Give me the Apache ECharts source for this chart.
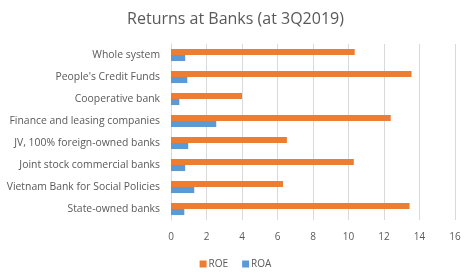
<!DOCTYPE html>
<html><head><meta charset="utf-8">
<script src="https://cdn.jsdelivr.net/npm/echarts@6/dist/echarts.min.js"></script>
<style>html,body{margin:0;padding:0;background:#fff}#c{width:471px;height:280px}</style>
</head><body><div id="c"></div>
<script>
const categories = ["Whole system","People's Credit Funds","Cooperative bank","Finance and leasing companies","JV, 100% foreign-owned banks","Joint stock commercial banks","Vietnam Bank for Social Policies","State-owned banks"];
const roe = [10.35, 13.55, 4.0, 12.38, 6.53, 10.3, 6.31, 13.44];
const roa = [0.8, 0.92, 0.47, 2.55, 0.97, 0.8, 1.31, 0.75];
const xTicks = [0, 2, 4, 6, 8, 10, 12, 14, 16];

const font = "'Open Sans', 'Liberation Sans', sans-serif";
const chart = echarts.init(document.getElementById('c'));
chart.setOption({
  animation: false,
  title: { text: 'Returns at Banks (at 3Q2019)', left: 'center', top: 6,
    textStyle: { fontFamily: font, fontSize: 16, fontWeight: 'normal', color: '#595959' } },
  legend: { bottom: 6, left: 'center', itemWidth: 7, itemHeight: 7, itemGap: 14, icon: 'rect',
    textStyle: { fontFamily: font, fontSize: 10, color: '#595959', padding: [0,0,0,-3] },
    data: ['ROE', 'ROA'] },
  grid: { left: 171, right: 16, top: 44, bottom: 60, containLabel: false },
  xAxis: { type: 'value', min: xTicks[0], max: xTicks[xTicks.length-1], interval: 2,
    axisLine: { show: false }, axisTick: { show: false },
    splitLine: { lineStyle: { color: '#d9d9d9', width: 1 } },
    axisLabel: { fontFamily: font, fontSize: 10, color: '#595959', margin: 12 } },
  yAxis: { type: 'category', data: categories, inverse: true,
    axisLine: { show: true, lineStyle: { color: '#d9d9d9' } }, axisTick: { show: false },
    axisLabel: { fontFamily: font, fontSize: 10.4, color: '#595959', margin: 11 } },
  series: [
    { name: 'ROE', type: 'bar', data: roe, itemStyle: { color: '#ED7D31' }, barGap: '0%', barCategoryGap: '45%' },
    { name: 'ROA', type: 'bar', data: roa, itemStyle: { color: '#5B9BD5' }, barGap: '0%', barCategoryGap: '45%' }
  ]
});
</script></body></html>
